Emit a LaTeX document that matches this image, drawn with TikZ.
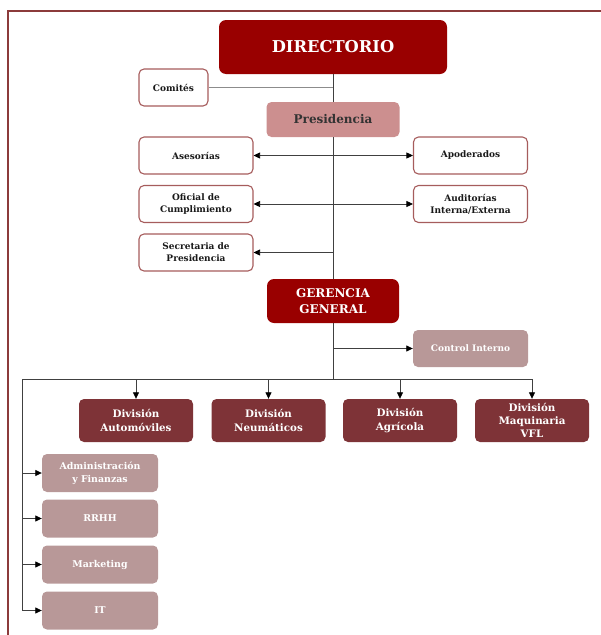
\documentclass[tikz,border=0pt]{standalone}
\usepackage{fontspec}
\setmainfont{DejaVu Serif}
\usetikzlibrary{arrows.meta}

\definecolor{dirred}{HTML}{990000}
\definecolor{presrose}{HTML}{CC8F8F}
\definecolor{divred}{HTML}{7E3337}
\definecolor{dusty}{HTML}{B89898}
\definecolor{boxline}{HTML}{A65C5C}
\definecolor{framered}{HTML}{8C3B3B}

\begin{document}
\begin{tikzpicture}[x=1pt, y=-1pt,
  >={Triangle[length=6.5pt, width=6pt, color=black]},
  base/.style={rounded corners=5pt, inner sep=0pt, align=center},
  topbox/.style={base, fill=dirred, text=white, rounded corners=7pt},
  whitebox/.style={base, draw=boxline, line width=1.1pt, fill=white,
    minimum width=114pt, minimum height=37pt, text=black!90,
    font=\bfseries\fontsize{9}{12}\selectfont},
  divbox/.style={base, fill=divred, text=white, minimum width=114pt,
    minimum height=43pt, font=\bfseries\fontsize{10.3}{13.3}\selectfont},
  areabox/.style={base, fill=dusty, text=white, minimum width=116pt,
    minimum height=38pt, font=\bfseries\fontsize{9.4}{13}\selectfont},
  link/.style={draw=black!75, line width=0.8pt}]
  \useasboundingbox (0,0) rectangle (601,635);
  \draw[framered, line width=2pt] (8,635) -- (8,11) -- (601,11); % frame

  % top of the chart
  \node[topbox, minimum width=228pt, minimum height=54pt,
    font=\bfseries\fontsize{16.3}{20}\selectfont] (dir) at (333,47) {DIRECTORIO};
  \node[whitebox, minimum width=69pt] (com) at (173.5,87.5) {Comités};
  \node[base, fill=presrose, text=black!80, minimum width=133pt, minimum height=35pt,
    font=\bfseries\fontsize{12}{14}\selectfont] (pres) at (333,119.5) {Presidencia};
  \node[whitebox] (ase) at (196,155.5) {Asesorías};
  \node[whitebox] (apo) at (470.5,155.5) {Apoderados};
  \node[whitebox] (ofi) at (196,204) {Oficial de\\Cumplimiento};
  \node[whitebox] (aud) at (470.5,204) {Auditorías\\Interna/Externa};
  \node[whitebox] (sec) at (196,252.5) {Secretaria de\\Presidencia};
  \node[topbox, minimum width=132pt, minimum height=44pt,
    font=\bfseries\fontsize{12}{16.5}\selectfont] (ger) at (333,301) {GERENCIA\\GENERAL};
  \node[areabox, minimum width=115pt, minimum height=37pt,
    font=\bfseries\fontsize{9}{12}\selectfont] (ci) at (470.5,348.5) {Control Interno};

  % divisions
  \node[divbox] (d1) at (136,420.5) {División\\Automóviles};
  \node[divbox] (d2) at (268.5,420.5) {División\\Neumáticos};
  \node[divbox] (d3) at (400,420.5) {División\\Agrícola};
  \node[divbox] (d4) at (532,420.5) {División\\Maquinaria\\VFL};

  % support areas
  \node[areabox] (adm) at (100,473) {Administración\\y Finanzas};
  \node[areabox] (rrhh) at (100,518.5) {RRHH};
  \node[areabox] (mkt) at (100,564.5) {Marketing};
  \node[areabox] (it) at (100,610.5) {IT};

  \coordinate (bus) at (333,379);
  \coordinate (busL) at (22,379);

  % spine
  \draw[link] (dir) -- (pres);
  \draw[link] (pres) -- (ger);
  \draw[link] (ger) -- (bus);
  \draw[link, draw=black!45] (com.east) -- (com.east -| dir.south);
  \draw[link, <->] (ase) -- (apo);
  \draw[link, <->] (ofi) -- (aud);
  \draw[link, ->] (sec.east -| dir.south) -- (sec.east);
  \draw[link, ->] (ci.west -| ger.south) -- (ci.west);

  % bus to divisions
  \draw[link] (busL) -- (d4.north |- bus);
  \foreach \d in {d1,d2,d3,d4}
    \draw[link, ->] (\d.north |- bus) -- (\d.north);

  % left branch
  \draw[link] (busL) -- (it.west -| busL);
  \foreach \a in {adm,rrhh,mkt,it}
    \draw[link, ->] (\a.west -| busL) -- (\a.west);
\end{tikzpicture}
\end{document}
